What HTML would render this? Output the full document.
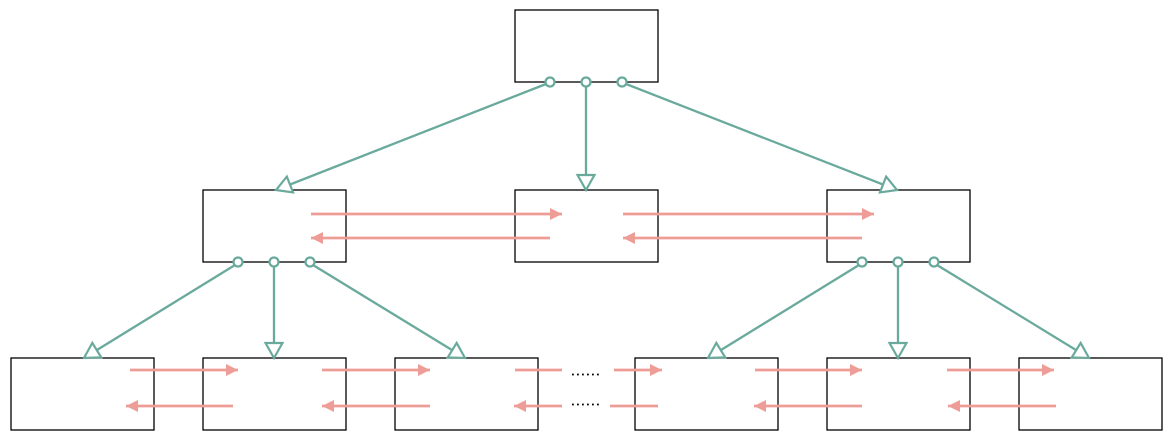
<!DOCTYPE html>
<html><head><meta charset="utf-8"><style>html,body{margin:0;padding:0;background:#fff}svg{display:block}</style></head>
<body>
<svg width="1174" height="442" viewBox="0 0 1174 442" xmlns="http://www.w3.org/2000/svg">
<defs>
<marker id="h" markerUnits="userSpaceOnUse" markerWidth="22" markerHeight="22" refX="17" refY="10" orient="auto">
<path d="M2,1.5 L17,10 L2,18.5 Z" fill="#fff" stroke="#6aaa9c" stroke-width="2.2"/>
</marker>
<marker id="p" markerUnits="userSpaceOnUse" markerWidth="14" markerHeight="14" refX="12" refY="6" orient="auto">
<path d="M0,0 L12,6 L0,12 Z" fill="#ee9c96"/>
</marker>
</defs>
<g fill="#fff" stroke="#000" stroke-width="1.3">
<rect x="515" y="10" width="143" height="72"/>
<rect x="203" y="190" width="143" height="72"/>
<rect x="515" y="190" width="143" height="72"/>
<rect x="827" y="190" width="143" height="72"/>
<rect x="11" y="358" width="143" height="72"/>
<rect x="203" y="358" width="143" height="72"/>
<rect x="395" y="358" width="143" height="72"/>
<rect x="635" y="358" width="143" height="72"/>
<rect x="827" y="358" width="143" height="72"/>
<rect x="1019" y="358" width="143" height="72"/>
</g>
<g stroke="#6aaa9c" stroke-width="2.3" fill="none">
<line x1="546" y1="84" x2="276" y2="190" marker-end="url(#h)"/>
<line x1="586" y1="86" x2="586" y2="190" marker-end="url(#h)"/>
<line x1="626" y1="84" x2="897" y2="190" marker-end="url(#h)"/>
<line x1="235" y1="265" x2="84" y2="358" marker-end="url(#h)"/>
<line x1="274" y1="266" x2="274" y2="358" marker-end="url(#h)"/>
<line x1="313" y1="265" x2="465" y2="358" marker-end="url(#h)"/>
<line x1="859" y1="265" x2="708" y2="358" marker-end="url(#h)"/>
<line x1="898" y1="266" x2="898" y2="358" marker-end="url(#h)"/>
<line x1="937" y1="265" x2="1089" y2="358" marker-end="url(#h)"/>
<g fill="#fff">
<circle cx="550" cy="82" r="4.5"/><circle cx="586" cy="82" r="4.5"/><circle cx="622" cy="82" r="4.5"/>
<circle cx="238" cy="262" r="4.5"/><circle cx="274" cy="262" r="4.5"/><circle cx="310" cy="262" r="4.5"/>
<circle cx="862" cy="262" r="4.5"/><circle cx="898" cy="262" r="4.5"/><circle cx="934" cy="262" r="4.5"/>
</g>
</g>
<g stroke="#ee9c96" stroke-width="2.8" fill="none">
<line x1="311" y1="214" x2="562" y2="214" marker-end="url(#p)"/>
<line x1="550" y1="238" x2="311" y2="238" marker-end="url(#p)"/>
<line x1="623" y1="214" x2="874" y2="214" marker-end="url(#p)"/>
<line x1="862" y1="238" x2="623" y2="238" marker-end="url(#p)"/>
<line x1="130" y1="370" x2="238" y2="370" marker-end="url(#p)"/>
<line x1="322" y1="370" x2="430" y2="370" marker-end="url(#p)"/>
<line x1="515" y1="370" x2="562" y2="370"/>
<line x1="614" y1="370" x2="662" y2="370" marker-end="url(#p)"/>
<line x1="755" y1="370" x2="862" y2="370" marker-end="url(#p)"/>
<line x1="947" y1="370" x2="1054" y2="370" marker-end="url(#p)"/>
<line x1="233" y1="406" x2="126" y2="406" marker-end="url(#p)"/>
<line x1="430" y1="406" x2="322" y2="406" marker-end="url(#p)"/>
<line x1="562" y1="406" x2="514" y2="406" marker-end="url(#p)"/>
<line x1="658" y1="406" x2="610" y2="406"/>
<line x1="862" y1="406" x2="754" y2="406" marker-end="url(#p)"/>
<line x1="1056" y1="406" x2="948" y2="406" marker-end="url(#p)"/>
</g>
<g stroke="#000" stroke-width="1.8" stroke-dasharray="1.8 3.2">
<line x1="572" y1="374.5" x2="601" y2="374.5"/>
<line x1="572" y1="404.5" x2="601" y2="404.5"/>
</g>
</svg>
</body></html>
